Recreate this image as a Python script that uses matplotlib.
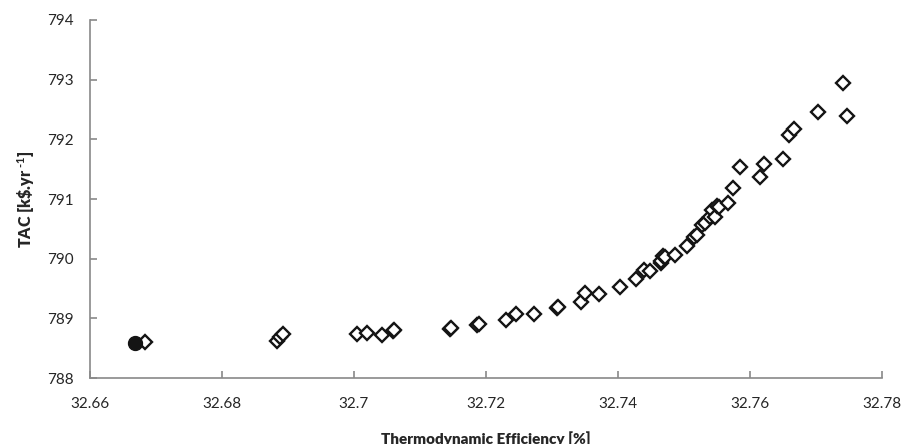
import matplotlib
matplotlib.use("Agg")
import matplotlib.pyplot as plt

plt.rcParams['font.family'] = ['Lato', 'DejaVu Sans']
plt.rcParams['mathtext.fontset'] = 'custom'
plt.rcParams['mathtext.rm'] = 'Lato:bold'
plt.rcParams['mathtext.it'] = 'Lato:bold'
plt.rcParams['mathtext.bf'] = 'Lato:bold'

# Selected (optimal) point
best_eff = [32.6668]
best_tac = [788.59]

# Pareto points
eff = [32.6683, 32.6883, 32.6888, 32.6893,
       32.7005, 32.7020, 32.7043, 32.7060, 32.7061,
       32.7146, 32.7147, 32.7186, 32.7189,
       32.7230, 32.7246, 32.7273, 32.7308, 32.7309,
       32.7344, 32.7350, 32.7372, 32.7403, 32.7427,
       32.7440, 32.7449, 32.7466, 32.7465, 32.7468, 32.7472,
       32.7486, 32.7505, 32.7516, 32.7520, 32.7527,
       32.7532, 32.7540, 32.7543, 32.7547, 32.7551, 32.7554,
       32.7567, 32.7574, 32.7585, 32.7615, 32.7621, 32.7650,
       32.7659, 32.7667, 32.7703, 32.7741, 32.7747]
tac = [788.61, 788.62, 788.68, 788.73,
       788.74, 788.75, 788.72, 788.78, 788.80,
       788.82, 788.83, 788.89, 788.91,
       788.98, 789.08, 789.07, 789.17, 789.19,
       789.28, 789.42, 789.41, 789.53, 789.66,
       789.81, 789.79, 789.92, 789.96, 790.05, 790.03,
       790.06, 790.21, 790.37, 790.40, 790.56,
       790.60, 790.70, 790.81, 790.69, 790.88, 790.86,
       790.94, 791.19, 791.54, 791.37, 791.59, 791.67,
       792.07, 792.17, 792.46, 792.95, 792.39]

xticks = [32.66, 32.68, 32.70, 32.72, 32.74, 32.76, 32.78]
xticklabels = ['32.66', '32.68', '32.7', '32.72', '32.74', '32.76', '32.78']
yticks = [788, 789, 790, 791, 792, 793, 794]

fig = plt.figure(figsize=(9.01, 4.44), dpi=100)
ax = fig.add_axes([0.0999, 0.1486, 0.8787, 0.8064])

ax.plot(eff, tac, linestyle='none', marker='D', markersize=7.5,
        markerfacecolor='white', markeredgecolor='#141414', markeredgewidth=1.7,
        zorder=3)
ax.plot(best_eff, best_tac, linestyle='none', marker='o', markersize=10,
        markerfacecolor='#141414', markeredgecolor='#141414', zorder=4)

ax.set_xlim(32.66, 32.78)
ax.set_ylim(788, 794)
ax.set_xticks(xticks)
ax.set_xticklabels(xticklabels)
ax.set_yticks(yticks)

grey = '#898989'
for s in ['top', 'right']:
    ax.spines[s].set_visible(False)
for s in ['left', 'bottom']:
    ax.spines[s].set_color(grey)
    ax.spines[s].set_linewidth(1.2)

ax.tick_params(axis='both', direction='in', length=5, width=1.2, color=grey,
               labelsize=11, labelcolor='#262626')
ax.tick_params(axis='x', pad=14)
ax.tick_params(axis='y', pad=12)

ax.set_xlabel('Thermodynamic Efficiency [%]', fontsize=11, fontweight='heavy',
              color='#262626', labelpad=14)
ax.set_ylabel(r'TAC [k\$.yr$^{\text{ -1}}$]', fontsize=11.5, fontweight='heavy',
              color='#262626', labelpad=8)

fig.savefig('out.png', dpi=100)
